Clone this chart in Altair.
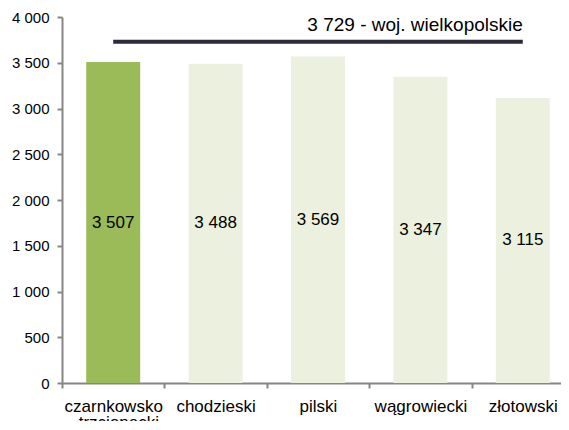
import altair as alt
import pandas as pd

districts = ["czarnkowsko - trzcianecki", "chodzieski", "pilski", "wągrowiecki", "złotowski"]
values = [3507, 3488, 3569, 3347, 3115]
region_value = 3729
region_label = "3 729 - woj. wielkopolskie"

# category slot centres (0.5, 1.5, ...) on a continuous axis
df = pd.DataFrame({"district": districts, "value": values,
                   "pos": [i + 0.5 for i in range(len(districts))]})
ref = pd.DataFrame({"start": [0.5], "end": [len(districts) - 0.5],
                    "value": [region_value], "label": [region_label]})

FONT = "Liberation Sans"
names_js = "[" + ",".join("'" + d + "'" for d in districts) + "]"

PLOT_W = 499
SLOT = 102.4  # pixel width of one category slot
x_scale = alt.Scale(domain=[0, PLOT_W / SLOT], nice=False, zero=False, padding=0)
y_scale = alt.Scale(domain=[0, 4000], nice=False)

tick_vals = [i * 0.5 for i in range(0, 2 * len(districts))]

x_axis = alt.Axis(
    title=None, values=tick_vals, grid=False, labelAngle=0, labelFontSize=17, labelFont=FONT,
    labelColor="#000000", domainColor="#868686", domainWidth=2, tickColor="#868686",
    tickWidth=2, tickSize=5, labelPadding=10, labelLineHeight=16,
    labelOverlap=False, labelBound=False, labelFlush=False,
    tickOpacity={"condition": {"test": "datum.value % 1 == 0", "value": 1}, "value": 0},
    labelExpr=("datum.value % 1 == 0 ? '' : "
               "(floor(datum.value) == 0 ? ['czarnkowsko', '- trzcianecki'] : "
               + names_js + "[floor(datum.value)])"),
)
y_axis = alt.Axis(
    title=None, values=[0, 500, 1000, 1500, 2000, 2500, 3000, 3500, 4000], grid=False,
    labelFontSize=15, labelFont=FONT, labelColor="#000000", domainColor="#868686",
    domainWidth=2, tickColor="#868686", tickWidth=2, tickSize=5, labelPadding=8,
    labelExpr="replace(format(datum.value, ','), ',', ' ')",
)

bars = alt.Chart(df).mark_bar(width=54).encode(
    x=alt.X("pos:Q", scale=x_scale, axis=x_axis),
    y=alt.Y("value:Q", scale=y_scale, axis=y_axis),
    color=alt.condition(alt.datum.district == districts[0], alt.value("#9bbb59"), alt.value("#ebf1de")),
)

labels = alt.Chart(df).transform_calculate(
    half="datum.value / 2",
    txt="replace(format(datum.value, ','), ',', ' ')",
).mark_text(fontSize=17, font=FONT, color="#000000", baseline="middle").encode(
    x=alt.X("pos:Q", scale=x_scale),
    y=alt.Y("half:Q", scale=y_scale),
    text="txt:N",
)

rule = alt.Chart(ref).mark_rule(color="#2b2b3a", strokeWidth=4).encode(
    x=alt.X("start:Q", scale=x_scale),
    x2="end:Q",
    y=alt.Y("value:Q", scale=y_scale),
)

ref_text = alt.Chart(ref).mark_text(
    fontSize=19, font=FONT, color="#000000", align="right", baseline="alphabetic", dy=-11
).encode(
    x=alt.X("end:Q", scale=x_scale),
    y=alt.Y("value:Q", scale=y_scale),
    text="label:N",
)

chart = alt.layer(bars, labels, rule, ref_text).properties(
    width=PLOT_W, height=366,
    autosize=alt.AutoSizeParams(type="none"),
    padding={"left": 54, "top": 9, "right": 0, "bottom": 38},
).configure_view(stroke=None)

chart.save("out.html", embed_options={"renderer": "svg", "actions": False})
